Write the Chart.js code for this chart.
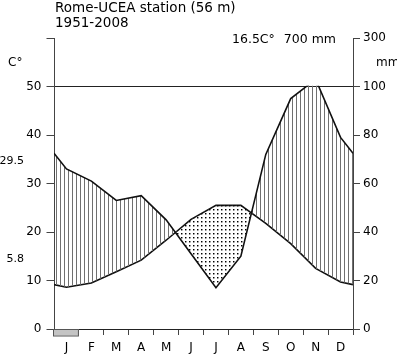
<!DOCTYPE html>
<html>
<head>
<meta charset="utf-8">
<script src="https://cdn.jsdelivr.net/npm/chart.js@4"></script>
<style>
  html, body { margin: 0; padding: 0; background: #fff; }
  #wrap { width: 397px; height: 354px; }
</style>
</head>
<body>
<div id="wrap"><canvas id="climate"></canvas></div>
<script>
// Walter-Lieth diagram, Rome-UCEA 1951-2008
const months = ['J', 'F', 'M', 'A', 'M', 'J', 'J', 'A', 'S', 'O', 'N', 'D'];
const tempC = [8.6, 9.5, 11.8, 14.2, 18.3, 22.6, 25.5, 25.5, 21.8, 17.6, 12.5, 9.7];
const precipMm = [66, 61, 53, 55, 45, 31, 17, 30, 72, 95, 103, 79];
const frostMonths = [1, 0, 0, 0, 0, 0, 0, 0, 0, 0, 0, 0];
const rightTickLabels = ['0', '20', '40', '60', '80', '100', '300'];

const titleLines = ['Rome-UCEA station (56 m)', '1951-2008'];
const meanTempText = '16.5C°';
const totalPrecipText = '700 mm';
const warmMaxText = '29.5';
const coldMinText = '5.8';

const FONT = '"DejaVu Sans", sans-serif';

// points at month centres, edges joined Dec -> Jan
function toPoints(vals) {
    const edge = (vals[0] + vals[vals.length - 1]) / 2;
    const pts = vals.map((v, i) => ({ x: i + 0.5, y: v }));
    return [{ x: 0, y: edge }, ...pts, { x: vals.length, y: edge }];
}

function makePattern(draw, w, h) {
    const c = document.createElement('canvas');
    c.width = w; c.height = h;
    draw(c.getContext('2d'));
    return c.getContext('2d').createPattern(c, 'repeat');
}

const hatch = makePattern(g => {
    g.fillStyle = '#707070';
    g.fillRect(0, 0, 1, 4);
}, 4, 4);

const dots = makePattern(g => {
    g.fillStyle = '#000';
    g.fillRect(1, 1, 1, 1);
    g.fillStyle = 'rgba(0,0,0,0.45)';
    g.fillRect(2, 1, 1, 1);
    g.fillRect(1, 2, 1, 1);
    g.fillStyle = 'rgba(0,0,0,0.2)';
    g.fillRect(2, 2, 1, 1);
}, 4, 4);

// precipitation above 100 mm is cut off at the 100 line
const clipToHundred = {
    id: 'clipToHundred',
    beforeDatasetsDraw(chart) {
        const { ctx, chartArea } = chart;
        const top = chart.scales.y2.getPixelForValue(100) - 0.8;
        ctx.save();
        ctx.beginPath();
        ctx.rect(chartArea.left - 2, top, chartArea.right - chartArea.left + 4, chartArea.bottom - top + 2);
        ctx.clip();
    },
    afterDatasetsDraw(chart) {
        chart.ctx.restore();
    }
};

const extras = {
    id: 'extras',
    afterDraw(chart) {
        const { ctx, chartArea } = chart;
        const xs = chart.scales.x;
        ctx.save();

        // frost months box under the axis
        frostMonths.forEach((f, i) => {
            if (!f) return;
            const x0 = xs.getPixelForValue(i);
            const x1 = xs.getPixelForValue(i + 1);
            ctx.fillStyle = '#c4c4c4';
            ctx.fillRect(x0, chartArea.bottom, x1 - x0, 6.5);
            ctx.strokeStyle = '#555';
            ctx.lineWidth = 1;
            ctx.strokeRect(Math.round(x0) - 0.5, chartArea.bottom + 0.5, x1 - x0, 6.5);
        });

        ctx.fillStyle = '#000';
        ctx.textBaseline = 'alphabetic';
        ctx.textAlign = 'left';
        ctx.font = '13.5px ' + FONT;
        ctx.fillText(titleLines[0], 55, 11.5);
        ctx.fillText(titleLines[1], 55, 26.7);

        ctx.font = '12.5px ' + FONT;
        ctx.fillText(meanTempText, 232, 42.5);
        ctx.textAlign = 'right';
        ctx.fillText(totalPrecipText, 336, 42.5);

        ctx.font = '12px ' + FONT;
        ctx.textAlign = 'left';
        ctx.fillText('C°', 8, 65.7);
        ctx.fillText('mm', 376, 66);

        ctx.font = '11px ' + FONT;
        ctx.textAlign = 'right';
        ctx.fillText(warmMaxText, 24, 164.3);
        ctx.fillText(coldMinText, 24, 261.7);
        ctx.restore();
    }
};

const ctx = document.getElementById('climate').getContext('2d');
new Chart(ctx, {
    type: 'line',
    data: {
        datasets: [
            {
                label: 'Precipitation (mm)',
                data: toPoints(precipMm),
                yAxisID: 'y2',
                borderColor: '#111',
                borderWidth: 1.6,
                pointRadius: 0,
                tension: 0,
                fill: { target: 1, above: hatch, below: dots }
            },
            {
                label: 'Temperature (°C)',
                data: toPoints(tempC),
                yAxisID: 'y',
                borderColor: '#111',
                borderWidth: 1.6,
                pointRadius: 0,
                tension: 0,
                fill: false
            }
        ]
    },
    options: {
        responsive: true,
        maintainAspectRatio: false,
        animation: false,
        layout: { padding: { top: 38, left: 0, right: 0, bottom: 0 } },
        plugins: {
            legend: { display: false },
            tooltip: { enabled: false }
        },
        scales: {
            x: {
                type: 'linear',
                min: 0,
                max: 12,
                afterBuildTicks: axis => {
                    const t = [];
                    for (let v = 0; v <= 12; v += 0.5) t.push({ value: v });
                    axis.ticks = t;
                },
                afterFit: s => { s.height = 25; },
                border: { color: '#222', width: 1 },
                grid: {
                    drawOnChartArea: false,
                    tickLength: 6,
                    tickColor: c => Number.isInteger(c.tick.value) ? '#444' : 'rgba(0,0,0,0)'
                },
                ticks: {
                    autoSkip: false,
                    maxRotation: 0,
                    padding: 6,
                    color: '#000',
                    font: { family: FONT, size: 12 },
                    callback: v => Number.isInteger(v) ? '' : months[Math.floor(v)]
                }
            },
            y: {
                position: 'left',
                min: 0,
                max: 60,
                afterFit: s => { s.width = 54; },
                border: { color: '#444', width: 1 },
                grid: {
                    drawOnChartArea: true,
                    tickLength: 7.5,
                    tickColor: '#444',
                    color: c => c.tick && c.tick.value === 50 ? '#222' : 'rgba(0,0,0,0)'
                },
                ticks: {
                    stepSize: 10,
                    padding: 5,
                    color: '#000',
                    font: { family: FONT, size: 12 },
                    callback: v => v === 60 ? '' : String(v)
                }
            },
            y2: {
                position: 'right',
                min: 0,
                max: 120,
                afterFit: s => { s.width = 44; },
                border: { color: '#444', width: 1 },
                grid: {
                    drawOnChartArea: false,
                    tickLength: 7,
                    tickColor: '#444'
                },
                ticks: {
                    stepSize: 20,
                    padding: 3,
                    color: '#000',
                    font: { family: FONT, size: 12 },
                    callback: (v, i) => rightTickLabels[i]
                }
            }
        }
    },
    plugins: [clipToHundred, extras]
});
</script>
</body>
</html>
